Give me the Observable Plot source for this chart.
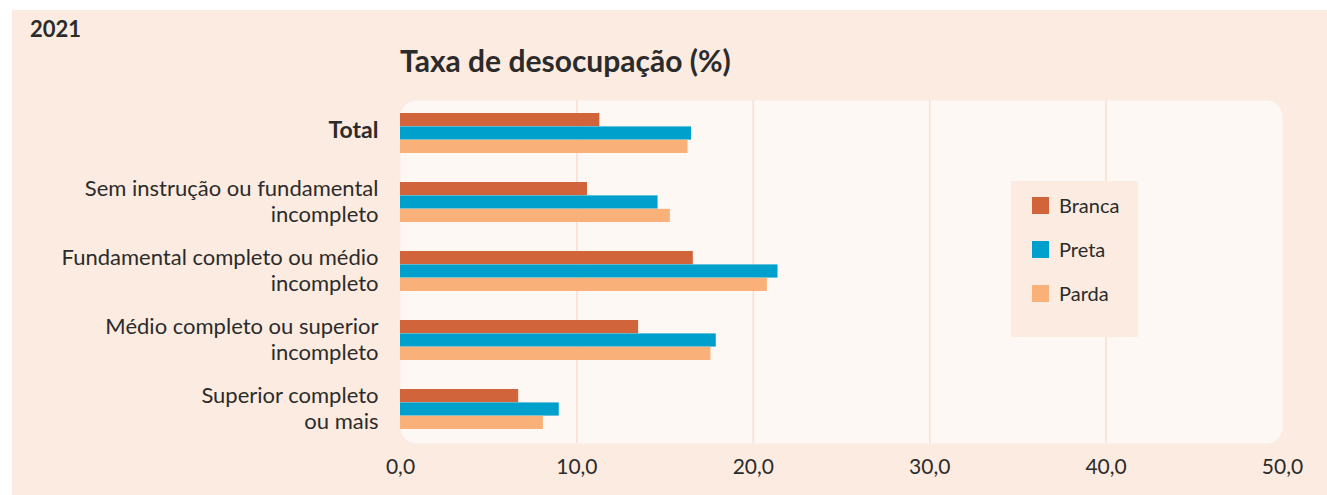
<!DOCTYPE html>
<html><head><meta charset="utf-8">
<script src="https://cdn.jsdelivr.net/npm/d3@7"></script>
<script src="https://cdn.jsdelivr.net/npm/@observablehq/plot@0.6"></script>
<style>
body{margin:0;background:#fff;font-family:Lato,"Noto Sans",sans-serif;}
#wrap{position:relative;width:1327px;height:495px;overflow:hidden;}
#bg{position:absolute;left:12px;top:10px;right:0;bottom:0;background:#fcebe0;}
#year{position:absolute;left:30px;top:15px;font-weight:700;font-size:22px;color:#2b2b2b;}
#title{position:absolute;left:400px;top:42px;font-weight:700;font-size:30px;color:#2b2b2b;}
#chart{position:absolute;left:0;top:0;}
#legend{position:absolute;left:1011px;top:181px;width:127px;height:156px;background:#fcebe0;}
.item{position:absolute;left:21px;height:20px;display:flex;align-items:center;font-size:20px;color:#2b2b2b;}
.sw{width:17px;height:17px;margin-right:10px;flex:none;}
</style></head>
<body>
<div id="wrap">
  <div id="bg"></div>
  <div id="chart"></div>
  <div id="year">2021</div>
  <div id="title">Taxa de desocupação (%)</div>
  <div id="legend"></div>
</div>
<script>
const categories = ["Total","Sem instrução ou fundamental incompleto","Fundamental completo ou médio incompleto","Médio completo ou superior incompleto","Superior completo ou mais"];
const categoryLabels = ["Total","Sem instrução ou fundamental\nincompleto","Fundamental completo ou médio\nincompleto","Médio completo ou superior\nincompleto","Superior completo\nou mais"];
const series = ["Branca","Preta","Parda"];
const branca = [11.3,10.6,16.6,13.5,6.7];
const preta = [16.5,14.6,21.4,17.9,9.0];
const parda = [16.3,15.3,20.8,17.6,8.1];
const colors = ["#d2643b","#00a0cc","#f9b179"];
const xTicks = [0,10,20,30,40,50];
const gridTicks = [10,20,30,40];

const values = [branca, preta, parda];
const W = 1327, H = 495, mT = 100, mB = 52, mL = 400, mR = 45;
const pIn = 0.42, pOut = 0.184;
const step = (H - mT - mB) / (categories.length - pIn + 2 * pOut);
const bw = step * (1 - pIn);
const third = bw / 3;

const barMarks = series.map((s, k) => {
  const rows = categories.map((c, i) => ({category: c, value: values[k][i]}));
  return Plot.barX(rows, {
    x: "value", y: "category", fill: colors[k],
    insetTop: third * k, insetBottom: third * (2 - k)
  });
});

const labelRows = categories.map((c, i) => ({category: c, label: categoryLabels[i]}));

const chart = Plot.plot({
  width: W, height: H,
  marginTop: mT, marginBottom: mB, marginLeft: mL, marginRight: mR,
  style: {background: "transparent", fontFamily: "Lato, 'Noto Sans', sans-serif", fontSize: "21px", color: "#2b2b2b"},
  x: {domain: [0, 50], axis: null, label: null},
  y: {domain: categories, type: "band", paddingInner: pIn, paddingOuter: pOut, axis: null, label: null},
  marks: [
    Plot.frame({fill: "#fef8f4", stroke: "none", rx: 16}),
    Plot.gridX(gridTicks, {stroke: "#f8dfcf", strokeOpacity: 1, strokeWidth: 1.5}),
    ...barMarks,
    Plot.axisX({ticks: xTicks, tickSize: 0, tickPadding: 16, fontSize: 21, color: "#2b2b2b", label: null,
      tickFormat: d => d.toFixed(1).replace(".", ",")}),
    Plot.text(labelRows.filter(d => d.category === "Total"), {
      y: "category", text: "label", frameAnchor: "left", textAnchor: "end", dx: -22, dy: -3,
      fontWeight: 700, fontSize: 23, fill: "#2b2b2b"}),
    Plot.text(labelRows.filter(d => d.category !== "Total"), {
      y: "category", text: "label", frameAnchor: "left", textAnchor: "end", dx: -22, dy: -2,
      fontSize: 22, lineHeight: 1.18, fill: "#2b2b2b"})
  ]
});
document.getElementById("chart").appendChild(chart);

const legend = document.getElementById("legend");
series.forEach((s, k) => {
  const it = document.createElement("div");
  it.className = "item";
  it.style.top = (14 + 44 * k) + "px";
  const sw = document.createElement("span");
  sw.className = "sw";
  sw.style.background = colors[k];
  it.appendChild(sw);
  it.appendChild(document.createTextNode(s));
  legend.appendChild(it);
});
</script>
</body></html>
